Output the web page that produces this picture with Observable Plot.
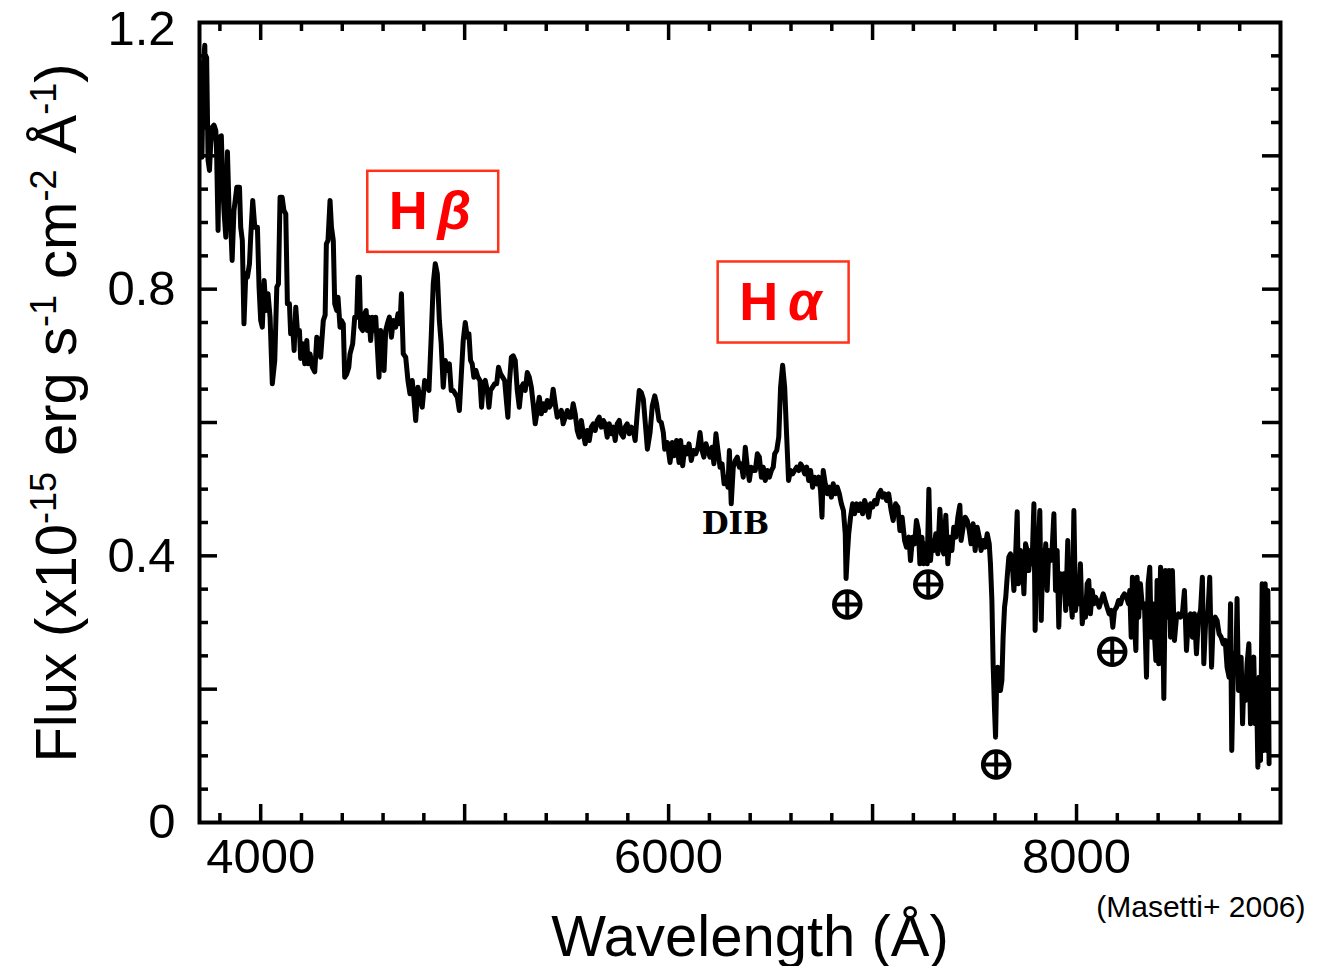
<!DOCTYPE html>
<html><head><meta charset="utf-8">
<script src="https://cdn.jsdelivr.net/npm/d3@7"></script>
<script src="https://cdn.jsdelivr.net/npm/@observablehq/plot@0.6"></script>
<style>body{margin:0;background:#fff;} svg{display:block}</style>
</head><body><div id="chart"></div>
<script>
// Spectrum (wavelength in Å, flux in 1e-15 erg s^-1 cm^-2 Å^-1)
const wavelength = [
3712,3719,3726,3731,3735,3742,3749,3755,3763,3771,3780,3784,3791,3798,3807,3814,3820,3829,3837,3845,3853,3860,3869,3883,3896,3902,3910,3918,3927,3935,3945,3951,3961,3971,3984,3992,4000,4008,4017,4026,4036,4046,4057,4069,4079,4087,4095,4105,4114,4123,4131,4141,4147,4157,4164,4172,4180,4190,4196,4206,4216,4226,4232,4242,4253,4265,4275,4286,4294,4307,4316,4322,4330,4340,4347,4356,4363,4373,4379,4389,4396,4405,4412,4422,4432,4438,4451,4461,4471,4477,4484,4490,4500,4510,4517,4523,4531,4539,4548,4556,4564,4572,4580,4588,4598,4605,4613,4621,4631,4641,4650,4662,4673,4683,
4690,4699,4711,4722,4732,4743,4751,4760,4771,4781,4792,4804,4813,4825,4836,4846,4856,4866,4876,4885,4895,4905,4915,4925,4934,4944,4954,4964,4974,4983,4993,5003,5013,5021,5029,5037,5045,5055,5065,5075,5083,5091,5101,5111,5119,5127,5137,5147,5157,5166,5176,5186,5196,5206,5212,5219,5229,5238,5248,5258,5268,5278,5287,5297,5307,5317,5327,5336,5346,5356,5366,5376,5385,5395,5405,5415,5425,5434,5444,5454,5464,5474,5483,5493,5503,5513,5523,5532,5542,5552,5562,5572,5582,5591,5601,5611,5621,5631,5640,5650,5660,5670,5680,5689,5699,5709,5719,5729,5738,5748,5758,5768,5778,5787,5797,5807,5817,5827,5836,5846,5856,
5866,5876,5886,5896,5909,5920,5932,5941,5953,5964,5974,5981,5994,6007,6018,6026,6039,6051,6059,6069,6079,6089,6100,6111,6121,6133,6144,6154,6164,6173,6183,6193,6203,6213,6222,6232,6242,6252,6262,6272,6281,6291,6298,6307,6317,6327,6337,6347,6356,6366,6376,6386,6396,6405,6415,6425,6435,6445,6455,6464,6474,6484,6494,6504,6513,6520,6530,6540,6549,6559,6569,6579,6588,6598,6608,6618,6628,6638,6647,6657,6667,6677,6687,6696,6706,6716,6726,6736,6745,6752,6758,6768,6778,6788,6798,6807,6817,6827,6837,6847,6857,6866,6870,6876,6883,6892,6902,6912,6922,6932,6941,6951,6961,6971,6981,6990,7000,7010,7020,7030,7040,7049,7059,7069,7079,7091,
7101,7113,7124,7134,7145,7157,7166,7178,7186,7196,7206,7215,7225,7232,7242,7251,7261,7268,7276,7284,7292,7300,7310,7320,7330,7340,7349,7359,7369,7379,7389,7398,7408,7418,7428,7434,7444,7454,7464,7474,7483,7493,7503,7513,7523,7532,7542,7552,7562,7572,7578,7585,7591,7598,7603,7608,7614,7621,7627,7634,7640,7647,7653,7660,7668,7676,7684,7693,7701,7709,7715,7725,7734,7742,7750,7758,7766,7774,7782,7791,7797,7804,7812,7820,7827,7835,7843,7849,7856,7864,7872,7880,7889,7897,7905,7913,7921,7930,7938,7947,7957,7964,7970,7979,7987,7995,8003,8011,8019,8028,8036,8044,8052,8060,8068,8077,8085,8093,8101,8111,8121,8131,8140,8150,8160,8170,8178,8186,8196,8206,8216,8225,8235,8245,8255,8261,8268,8274,8284,8291,8297,8305,8313,8323,8333,8343,8351,8359,8366,8372,8379,8389,8395,8403,8412,8420,8428,8436,8444,8454,8461,8470,8480,8490,8500,8510,8519,8529,8539,8549,8559,8568,8578,8588,8598,8608,8617,8624,8634,8644,8653,8662,8670,8680,8689,8699,8709,8719,8729,8738,8748,8755,8761,8768,8774,8781,8787,8794,8800,8807,8814,8820,8828,8836,8845,8853,8861,8869,8876,8882,8889,8895,8902,8910,8918,8925,8931,8938,8944
];
const flux = [
0.998,1.138,1.166,1.043,1.148,0.993,0.978,1.018,1.043,1.046,1.038,1.003,0.888,1.028,1.030,0.958,0.918,0.878,1.006,0.918,0.898,0.843,0.918,0.953,0.953,0.893,0.873,0.748,0.823,0.818,0.838,0.878,0.933,0.893,0.893,0.803,0.753,0.743,0.813,0.768,0.793,0.758,0.658,0.693,0.803,0.808,0.938,0.938,0.918,0.913,0.778,0.778,0.733,0.743,0.708,0.773,0.738,0.738,0.696,0.718,0.688,0.723,0.688,0.703,0.683,0.676,0.728,0.723,0.698,0.753,0.761,0.868,0.873,0.933,0.893,0.873,0.778,0.768,0.788,0.743,0.753,0.748,0.668,0.673,0.683,0.703,0.718,0.758,0.758,0.818,0.818,0.743,0.738,0.763,0.768,0.738,0.758,0.723,0.758,0.738,0.758,0.713,0.668,0.738,0.718,0.678,0.738,0.748,0.758,0.728,0.753,0.743,0.763,0.748,
0.793,0.703,0.698,0.663,0.643,0.663,0.638,0.603,0.653,0.638,0.623,0.663,0.658,0.648,0.728,0.808,0.838,0.823,0.753,0.718,0.653,0.693,0.678,0.688,0.648,0.648,0.643,0.638,0.618,0.668,0.723,0.750,0.728,0.733,0.693,0.688,0.668,0.678,0.668,0.663,0.623,0.658,0.663,0.648,0.623,0.648,0.653,0.658,0.658,0.683,0.673,0.668,0.663,0.628,0.608,0.658,0.698,0.700,0.693,0.648,0.623,0.653,0.658,0.648,0.675,0.668,0.653,0.628,0.598,0.618,0.638,0.613,0.628,0.618,0.633,0.623,0.628,0.650,0.628,0.608,0.613,0.618,0.598,0.608,0.618,0.608,0.608,0.628,0.613,0.588,0.578,0.603,0.583,0.568,0.588,0.573,0.593,0.598,0.588,0.603,0.608,0.593,0.603,0.598,0.578,0.598,0.583,0.593,0.573,0.598,0.603,0.583,0.578,0.593,0.598,0.583,0.593,0.588,0.573,0.613,0.648,
0.645,0.635,0.598,0.560,0.585,0.625,0.640,0.628,0.603,0.600,0.585,0.560,0.570,0.540,0.570,0.550,0.573,0.540,0.573,0.535,0.563,0.553,0.568,0.543,0.558,0.553,0.563,0.585,0.558,0.548,0.568,0.558,0.548,0.563,0.538,0.583,0.558,0.533,0.538,0.508,0.518,0.503,0.558,0.478,0.533,0.543,0.548,0.533,0.538,0.518,0.563,0.533,0.513,0.533,0.528,0.528,0.553,0.548,0.518,0.533,0.513,0.528,0.518,0.528,0.533,0.553,0.558,0.578,0.653,0.686,0.653,0.578,0.513,0.528,0.523,0.528,0.533,0.528,0.538,0.533,0.523,0.533,0.513,0.528,0.503,0.518,0.508,0.518,0.498,0.458,0.528,0.508,0.493,0.503,0.488,0.508,0.493,0.503,0.493,0.478,0.468,0.433,0.366,0.400,0.433,0.458,0.478,0.463,0.478,0.468,0.478,0.463,0.483,0.473,0.458,0.478,0.473,0.483,0.478,0.493,0.498,0.488,0.493,0.483,0.493,0.468,
0.453,0.478,0.473,0.438,0.458,0.423,0.413,0.428,0.393,0.428,0.418,0.453,0.438,0.388,0.428,0.388,0.418,0.388,0.500,0.393,0.423,0.408,0.433,0.403,0.470,0.413,0.403,0.461,0.388,0.428,0.408,0.443,0.428,0.458,0.476,0.423,0.443,0.458,0.453,0.438,0.418,0.448,0.408,0.443,0.428,0.408,0.423,0.413,0.433,0.418,0.388,0.333,0.238,0.168,0.128,0.208,0.233,0.208,0.198,0.213,0.278,0.323,0.338,0.368,0.398,0.403,0.393,0.348,0.398,0.466,0.358,0.408,0.393,0.343,0.418,0.408,0.378,0.408,0.388,0.478,0.288,0.388,0.408,0.468,0.303,0.408,0.383,0.418,0.348,0.408,0.393,0.408,0.463,0.348,0.408,0.293,0.373,0.358,0.373,0.318,0.423,0.328,0.343,0.308,0.468,0.318,0.343,0.328,0.388,0.298,0.323,0.308,0.358,0.363,0.313,0.348,0.328,0.338,0.333,0.323,0.333,0.343,0.333,0.323,0.313,0.318,0.293,0.318,0.323,0.333,0.328,0.338,0.343,0.338,0.328,0.348,0.278,0.368,0.298,0.258,0.368,0.308,0.358,0.323,0.328,0.218,0.358,0.383,0.278,0.328,0.298,0.243,0.363,0.238,0.383,0.358,0.186,0.378,0.308,0.378,0.278,0.378,0.273,0.308,0.313,0.308,0.313,0.348,0.258,0.308,0.313,0.278,0.313,0.253,0.308,0.318,0.368,0.238,0.308,0.313,0.368,0.233,0.303,0.308,0.303,0.283,0.278,0.268,0.273,0.233,0.218,0.328,0.108,0.218,0.253,0.233,0.336,0.198,0.223,0.248,0.148,0.208,0.183,0.238,0.268,0.148,0.238,0.248,0.148,0.208,0.083,0.218,0.093,0.358,0.108,0.358,0.108,0.348,0.088
];

// Annotations
const emissionNames = ["β", "α"];
const emissionWave = [4846, 6564];
const emissionFlux = [0.916, 0.780];
const dibLabel = ["DIB"];
const dibWave = [6328];
const dibFlux = [0.447];
const telluricWave = [6876, 7273, 7606, 8175];
const telluricFlux = [0.327, 0.357, 0.087, 0.256];

// Axis ticks
const xTickLabels = [4000, 6000, 8000];
const yTickLabels = [0, 0.4, 0.8];
const yTopLabel = [1.2];
const xMajorTicks = [4000, 5000, 6000, 7000, 8000];
const xMinorTicks = [3800, 4200, 4400, 4600, 4800, 5200, 5400, 5600, 5800, 6200, 6400, 6600, 6800, 7200, 7400, 7600, 7800, 8200, 8400, 8600, 8800];
const yMajorTicks = [0.2, 0.4, 0.6, 0.8, 1.0];
const yMinorTicks = [0.05, 0.1, 0.15, 0.25, 0.3, 0.35, 0.45, 0.5, 0.55, 0.65, 0.7, 0.75, 0.85, 0.9, 0.95, 1.05, 1.1, 1.15];

const spectrum = wavelength.map((w, i) => ({w, f: flux[i]}));
const emission = emissionNames.map((g, i) => ({g, x: emissionWave[i], y: emissionFlux[i]}));
const dib = dibLabel.map((t, i) => ({t, x: dibWave[i], y: dibFlux[i]}));
const telluric = telluricWave.map((x, i) => ({x, y: telluricFlux[i]}));

const W = 1321, H = 966, mT = 22, mR = 41, mB = 144, mL = 199;
const fw = W - mL - mR, fh = H - mT - mB;
const LONG = 18, SHORT = 9, TW = 3.5;

const chart = Plot.plot({
  width: W, height: H,
  marginTop: mT, marginRight: mR, marginBottom: mB, marginLeft: mL,
  style: {fontFamily: "'Liberation Sans', Arial, Helvetica, sans-serif", fontSize: "49px", background: "white", color: "black", overflow: "visible"},
  x: {domain: [3700, 9000]},
  y: {domain: [0, 1.2]},
  marks: [
    // inward ticks on all four sides
    Plot.ruleX(xMajorTicks, {insetTop: fh - LONG, strokeWidth: TW}),
    Plot.ruleX(xMinorTicks, {insetTop: fh - SHORT, strokeWidth: TW}),
    Plot.ruleX(xMajorTicks, {insetBottom: fh - LONG, strokeWidth: TW}),
    Plot.ruleX(xMinorTicks, {insetBottom: fh - SHORT, strokeWidth: TW}),
    Plot.ruleY(yMajorTicks, {insetRight: fw - LONG, strokeWidth: TW}),
    Plot.ruleY(yMinorTicks, {insetRight: fw - SHORT, strokeWidth: TW}),
    Plot.ruleY(yMajorTicks, {insetLeft: fw - LONG, strokeWidth: TW}),
    Plot.ruleY(yMinorTicks, {insetLeft: fw - SHORT, strokeWidth: TW}),
    Plot.axisX(xTickLabels, {tickSize: 0, tickPadding: 16, label: null, tickFormat: d => String(d), fontSize: 49}),
    Plot.axisY(yTickLabels, {tickSize: 0, tickPadding: 24, label: null, tickFormat: d => String(d), fontSize: 49}),
    Plot.axisY(yTopLabel, {tickSize: 0, tickPadding: 24, label: null, tickFormat: d => String(d), fontSize: 49, dy: 7}),
    Plot.line(spectrum, {x: "w", y: "f", stroke: "black", strokeWidth: 5, strokeLinejoin: "round"}),
    Plot.rect(emission, {x1: d => d.x - 321, x2: d => d.x + 321, y1: d => d.y - 0.0608, y2: d => d.y + 0.0608, fill: "white", stroke: "#ff3319", strokeWidth: 2.5}),
    Plot.text(emission, {x: "x", y: "y", text: () => "H", dx: -25, fill: "#ff0000", fontWeight: "bold", fontSize: 54, lineAnchor: "middle"}),
    Plot.text(emission, {x: "x", y: "y", text: "g", dx: 21, fill: "#ff0000", fontWeight: "bold", fontStyle: "italic", fontSize: 54, lineAnchor: "middle"}),
    Plot.text(dib, {x: "x", y: "y", text: "t", fontFamily: "'DejaVu Serif', serif", fontWeight: "bold", fontSize: 31, lineAnchor: "middle"}),
    Plot.dot(telluric, {x: "x", y: "y", r: 13, stroke: "black", strokeWidth: 4.5, fill: "none"}),
    Plot.text(["Wavelength (Å)"], {frameAnchor: "bottom", text: d => d, dx: 10, dy: 133, fontSize: 58, lineAnchor: "bottom"}),
    Plot.text(["(Masetti+ 2006)"], {frameAnchor: "bottom-right", text: d => d, textAnchor: "end", dx: 25, dy: 94, fontSize: 30, lineAnchor: "bottom"}),
    Plot.frame({stroke: "black", strokeWidth: 4})
  ]
});
document.getElementById("chart").appendChild(chart);

// crosses inside the telluric (Earth) symbols
d3.select(chart).selectAll('g[aria-label="dot"] circle').each(function () {
  const c = d3.select(this), cx = +c.attr("cx"), cy = +c.attr("cy"), r = +c.attr("r");
  const g = d3.select(this.parentNode);
  g.append("line").attr("x1", cx - r).attr("x2", cx + r).attr("y1", cy).attr("y2", cy).attr("stroke", "black").attr("stroke-width", 4);
  g.append("line").attr("x1", cx).attr("x2", cx).attr("y1", cy - r).attr("y2", cy + r).attr("stroke", "black").attr("stroke-width", 4);
});

// y-axis title with superscripts
const yl = d3.select(chart).append("text")
  .attr("transform", "translate(76,413) rotate(-90)")
  .attr("text-anchor", "middle").attr("font-size", 58).attr("fill", "black");
const parts = [["Flux (x10", false], ["-15", true], [" erg s", false], ["-1", true], [" cm", false], ["-2", true], [" Å", false], ["-1", true], [")", false]];
let raised = false;
for (const [t, sup] of parts) {
  const ts = yl.append("tspan").text(t);
  if (sup) { ts.attr("font-size", 36).attr("dy", raised ? 0 : -20); raised = true; }
  else { ts.attr("dy", raised ? 20 : 0); raised = false; }
}
</script>
</body></html>
